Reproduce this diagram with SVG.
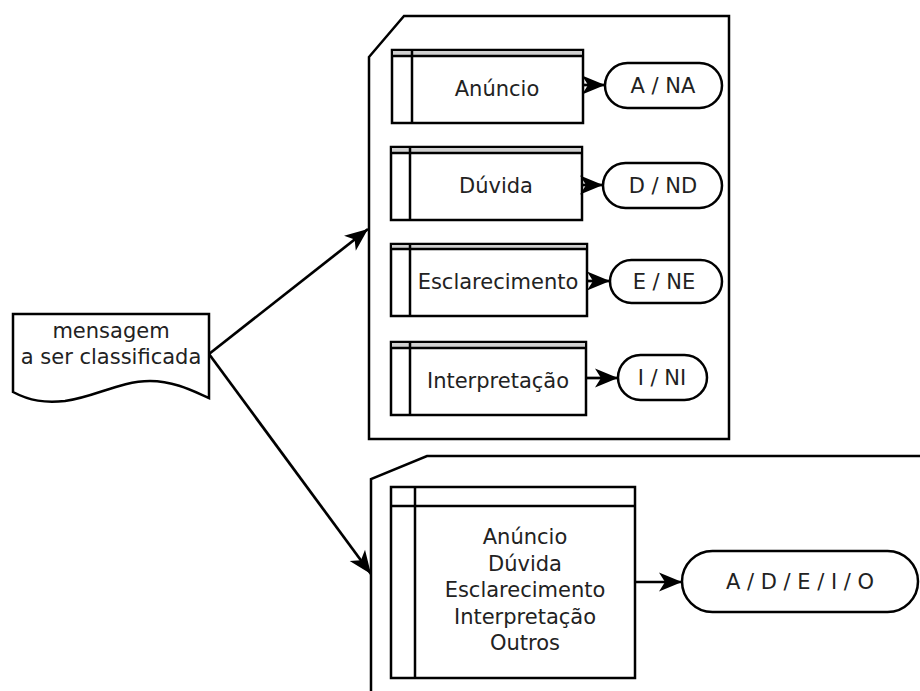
<svg xmlns="http://www.w3.org/2000/svg" width="920" height="691" viewBox="0 0 920 691">
  <style>
    .ln { fill: none; stroke: #000; stroke-width: 2.5; }
    .box { fill: #fff; stroke: #000; stroke-width: 2.5; }
    .hdr { fill: #d0d0d0; stroke: none; }
    .t { font-family: "DejaVu Sans", "Liberation Sans", sans-serif; font-size: 21px; fill: #222; text-anchor: middle; }
    .conn { fill: none; stroke: #000; stroke-width: 2.7; }
  </style>
  <defs>
    <marker id="arrow" markerUnits="userSpaceOnUse" markerWidth="26" markerHeight="22" viewBox="-25 -11 26 22" refX="0" refY="0" orient="auto">
      <path d="M0,0 L-23,-9.5 L-17,0 L-23,9.5 Z" fill="#000"/>
    </marker>
  </defs>

  <rect width="920" height="691" fill="#fff"/>

  <!-- upper container: one-vs-rest classifiers -->
  <g id="container-binary">
    <path class="ln" d="M369,57 L404,16 L729,16 L729,439 L369,439 Z" fill="#fff"/>
  </g>

  <!-- lower container: multiclass classifier -->
  <g id="container-multiclass">
    <path class="ln" d="M371,695 L371,479 L427,456 L925,456"/>
  </g>

  <!-- input document -->
  <g id="doc-mensagem">
    <path class="box" d="M13,314 H209 V398 C195,392 175,381 150,381 C120,381 95,397 65,401 C45,403 30,401 13,392 Z"/>
    <text class="t" x="111" y="338">mensagem</text>
    <text class="t" x="111" y="364">a ser classificada</text>
  </g>

  <g id="proc-anuncio">
    <rect class="box" x="392" y="50" width="191" height="73"/>
    <rect class="hdr" x="393" y="51" width="189" height="5"/>
    <path class="ln" d="M392,56 H583 M412,50 V123"/>
    <text class="t" x="497" y="96">Anúncio</text>
  </g>

  <g id="proc-duvida">
    <rect class="box" x="391" y="147" width="191" height="73"/>
    <rect class="hdr" x="392" y="148" width="189" height="5"/>
    <path class="ln" d="M391,153 H582 M410,147 V220"/>
    <text class="t" x="496" y="193">Dúvida</text>
  </g>

  <g id="proc-esclarecimento">
    <rect class="box" x="391" y="244" width="196" height="72"/>
    <rect class="hdr" x="392" y="245" width="194" height="4"/>
    <path class="ln" d="M391,249 H587 M410,244 V316"/>
    <text class="t" x="498" y="289">Esclarecimento</text>
  </g>

  <g id="proc-interpretacao">
    <rect class="box" x="391" y="342" width="195" height="73"/>
    <rect class="hdr" x="392" y="343" width="193" height="5"/>
    <path class="ln" d="M391,348 H586 M410,342 V415"/>
    <text class="t" x="498" y="388">Interpretação</text>
  </g>

  <g id="term-a-na">
    <rect class="box" x="605" y="63" width="117" height="45" rx="22.5"/>
    <text class="t" x="663" y="93">A / NA</text>
  </g>
  <g id="term-d-nd">
    <rect class="box" x="603" y="163" width="119" height="45" rx="22.5"/>
    <text class="t" x="663" y="193">D / ND</text>
  </g>
  <g id="term-e-ne">
    <rect class="box" x="610" y="260" width="112" height="43" rx="21.5"/>
    <text class="t" x="664" y="289">E / NE</text>
  </g>
  <g id="term-i-ni">
    <rect class="box" x="618" y="355" width="89" height="45" rx="22.5"/>
    <text class="t" x="662" y="385">I / NI</text>
  </g>

  <g id="proc-multiclasse">
    <rect class="box" x="391" y="487" width="244" height="191"/>
    <path class="ln" d="M391,506 H635 M415,487 V678"/>
    <text class="t" x="525" y="544">Anúncio</text>
    <text class="t" x="525" y="570.5">Dúvida</text>
    <text class="t" x="525" y="597">Esclarecimento</text>
    <text class="t" x="525" y="623.5">Interpretação</text>
    <text class="t" x="525" y="650">Outros</text>
  </g>

  <g id="term-adeio">
    <rect class="box" x="682" y="551" width="236" height="61" rx="30.5"/>
    <text class="t" x="800" y="589">A / D / E / I / O</text>
  </g>

  <!-- connectors -->
  <g id="connectors">
    <path class="conn" d="M209,354 L368,229" marker-end="url(#arrow)"/>
    <path class="conn" d="M209,354 L371,574" marker-end="url(#arrow)"/>
    <path class="conn" d="M583,85 H605" marker-end="url(#arrow)"/>
    <path class="conn" d="M582,185 H603" marker-end="url(#arrow)"/>
    <path class="conn" d="M587,281 H610" marker-end="url(#arrow)"/>
    <path class="conn" d="M586,378 H618" marker-end="url(#arrow)"/>
    <path class="conn" d="M635,582 H682" marker-end="url(#arrow)"/>
  </g>
</svg>
